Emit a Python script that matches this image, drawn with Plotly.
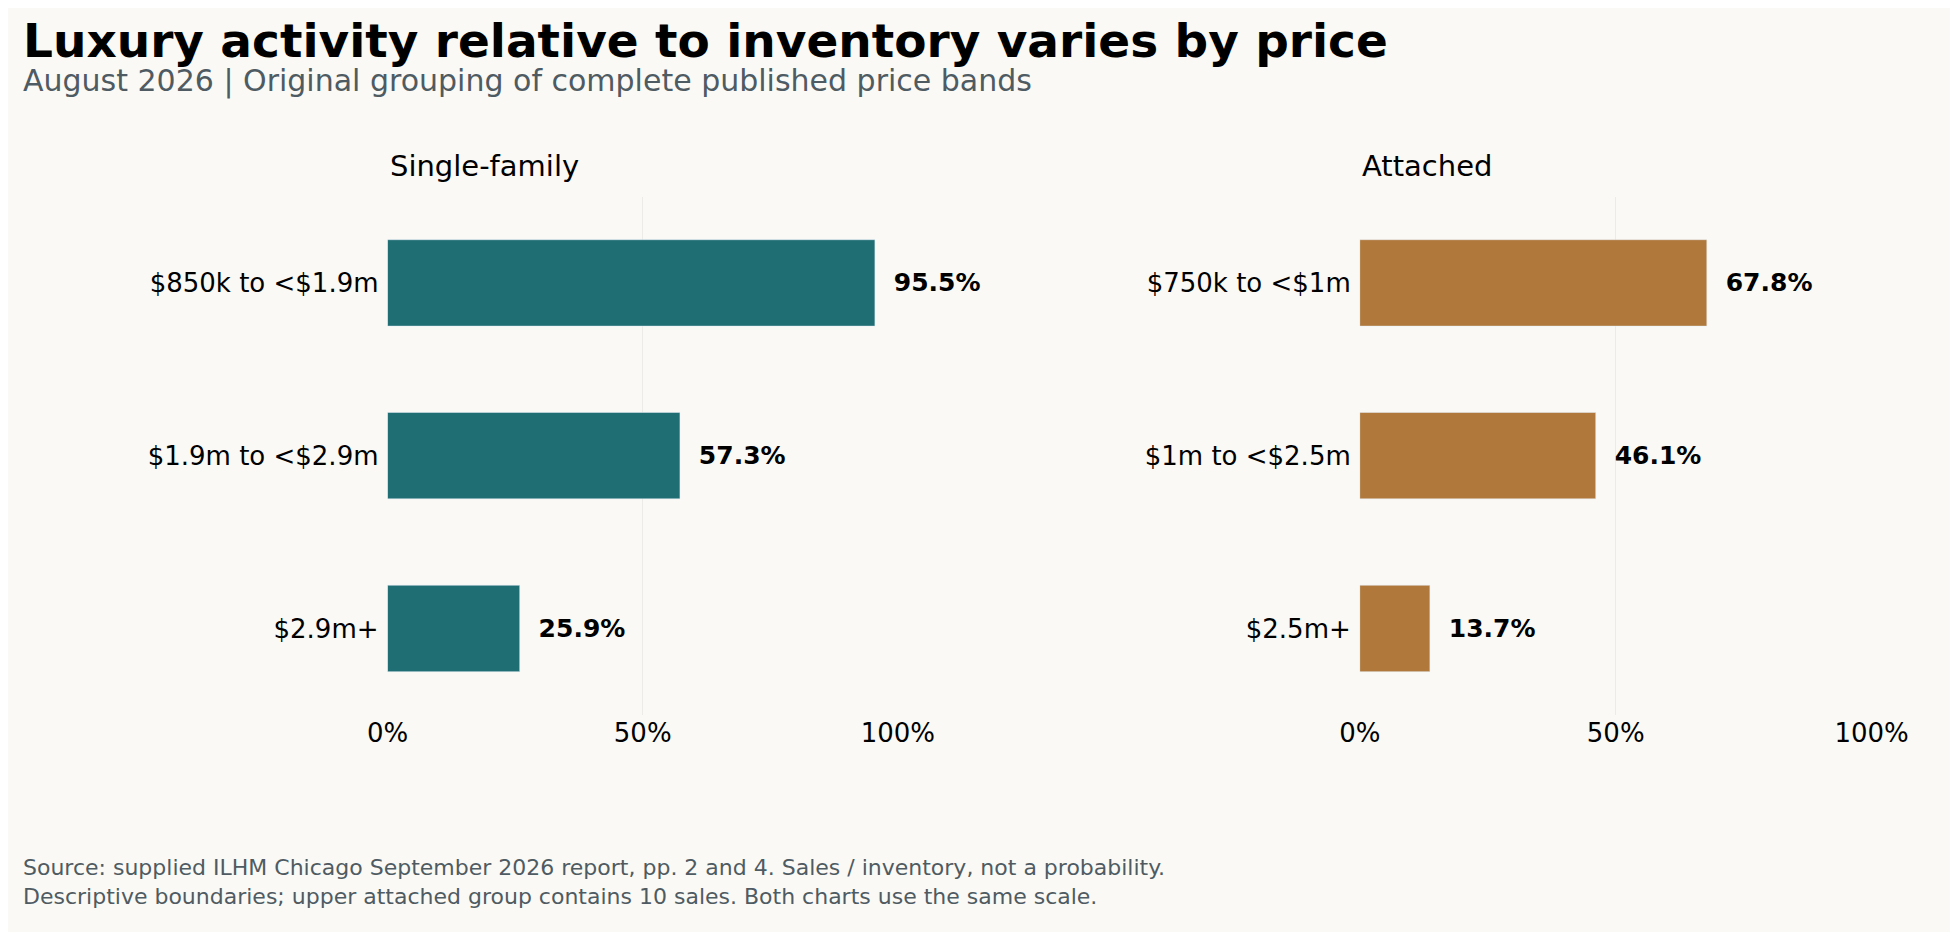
import plotly.graph_objects as go

sf_bands = ["$850k to <$1.9m", "$1.9m to <$2.9m", "$2.9m+"]
sf_values = [95.5, 57.3, 25.9]
at_bands = ["$750k to <$1m", "$1m to <$2.5m", "$2.5m+"]
at_values = [67.8, 46.1, 13.7]
ticks = [0, 50, 100]
tick_labels = ["0%", "50%", "100%"]

font = "DejaVu Sans"
fig = go.Figure()

panels = [
    (sf_bands, sf_values, "#1F6E73", "x", "y", [0.1887, 0.4573], "Single-family"),
    (at_bands, at_values, "#B0783A", "x2", "y2", [0.7004, 0.9698], "Attached"),
]
for bands, vals, color, xa, ya, dom, name in panels:
    fig.add_trace(go.Bar(
        x=vals, y=bands, orientation="h", marker_color=color, width=0.5,
        text=[f"  <b>{v:.1f}%</b>" for v in vals], textposition="outside",
        textfont=dict(family=font, size=25, color="black"), cliponaxis=False,
        xaxis=xa, yaxis=ya, showlegend=False, hoverinfo="skip"))
    fig.add_annotation(text=name, xref="paper", yref="paper", x=dom[0], y=0.81,
                       xanchor="left", yanchor="bottom", showarrow=False,
                       font=dict(family=font, size=29, color="black"))

xcommon = dict(range=[0, 100], tickvals=ticks, ticktext=tick_labels, showgrid=True,
               gridcolor="#ECEBE7", zeroline=False, showline=False,
               tickfont=dict(family=font, size=26, color="black"))
ycommon = dict(autorange="reversed", showgrid=False, ticks="", ticklabelstandoff=8,
               tickfont=dict(family=font, size=26, color="black"), domain=[0.2416, 0.7977])

fig.update_layout(
    width=1958, height=932,
    paper_bgcolor="#FAF9F5", plot_bgcolor="#FAF9F5",
    margin=dict(l=0, r=0, t=0, b=0),
    bargap=0.5,
    xaxis=dict(domain=panels[0][5], anchor="y", **xcommon),
    yaxis=dict(anchor="x", **ycommon),
    xaxis2=dict(domain=panels[1][5], anchor="y2", **xcommon),
    yaxis2=dict(anchor="x2", **ycommon),
)

fig.add_annotation(text="<b>Luxury activity relative to inventory varies by price</b>",
                   xref="paper", yref="paper", x=-0.004, y=0.997, xanchor="left", yanchor="top",
                   showarrow=False, font=dict(family=font, size=47, color="black"))
fig.add_annotation(text="August 2026 | Original grouping of complete published price bands",
                   xref="paper", yref="paper", x=-0.004, y=0.943, xanchor="left", yanchor="top",
                   showarrow=False, font=dict(family=font, size=30, color="#4F5B62"))
fig.add_annotation(text="Source: supplied ILHM Chicago September 2026 report, pp. 2 and 4. Sales / inventory, not a probability.<br>"
                        "Descriptive boundaries; upper attached group contains 10 sales. Both charts use the same scale.",
                   xref="paper", yref="paper", x=-0.004, y=0.093, xanchor="left", yanchor="top", align="left",
                   showarrow=False, font=dict(family=font, size=22, color="#4F5B62"))

fig.write_html("out.html")
